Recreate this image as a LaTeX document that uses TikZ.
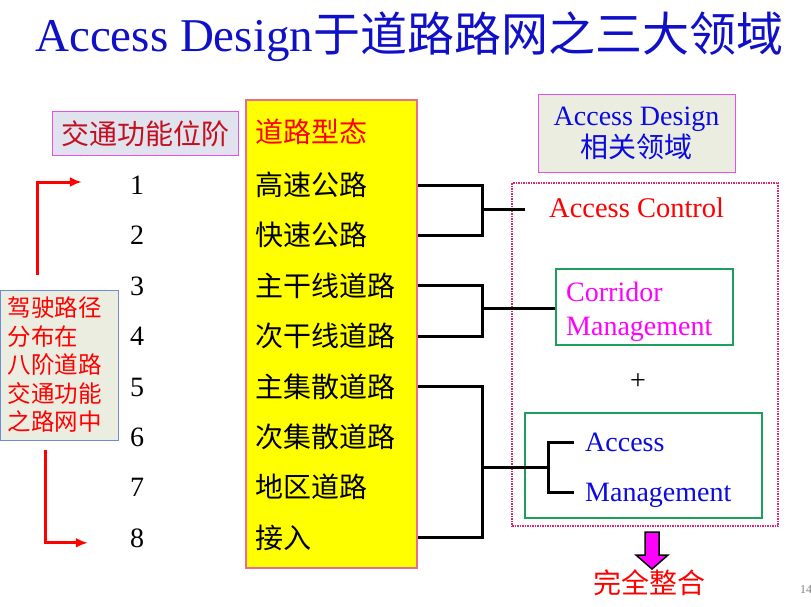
\documentclass[tikz,border=0pt]{standalone}
\usepackage{fontspec}
\setmainfont{Liberation Serif}
\newfontfamily\cjk{Noto Sans CJK SC}
\usepackage{tikz}
\usetikzlibrary{arrows.meta}
\tikzset{>={Latex[length=12pt, width=10pt]}}
\definecolor{titleblue}{RGB}{16, 16, 200}
\definecolor{textblue}{RGB}{10, 10, 225}
\definecolor{panelgray}{RGB}{236, 237, 225}
\definecolor{lavgray}{RGB}{224, 226, 238}
\definecolor{boxmagenta}{RGB}{228, 80, 232}
\definecolor{boxpink}{RGB}{232, 110, 140}
\definecolor{zonepink}{RGB}{225, 40, 110}
\definecolor{boxgreen}{RGB}{30, 160, 90}
\definecolor{boxblue}{RGB}{110, 140, 210}
\definecolor{darkred}{RGB}{195, 15, 30}
\definecolor{puremag}{RGB}{255, 0, 255}
\definecolor{pureyellow}{RGB}{255, 255, 0}
\definecolor{purered}{RGB}{255, 0, 0}
\tikzset{
    cjktext/.style={font=\cjk\fontsize{28}{30}\selectfont, text height=23pt, text depth=2pt, inner sep=0pt},
    latintext/.style={font=\fontsize{28}{30}\selectfont, text height=19pt, text depth=0pt, inner sep=0pt},
    brk/.style={line width=3pt},
    redarr/.style={purered, line width=3pt, ->},
    gbox/.style={draw=boxgreen, line width=2pt}
}
\begin{document}
\begin{tikzpicture}[x=1pt, y=-1pt]
    \useasboundingbox(0, 0)rectangle(811, 607);
    \node[anchor=base west, inner sep=0pt, text=titleblue, font=\fontsize{47}{50}\selectfont](title)at(35, 52){Access Design{\cjk 于道路路网之三大领域}};
    \node[draw=boxmagenta, fill=lavgray, line width=1pt, minimum width=186, minimum height=43, text=darkred, cjktext](rank)at(145, 133.5){交通功能位阶};
    \node[draw=boxpink, fill=pureyellow, line width=1.5pt, minimum width=171, minimum height=468](road)at(331.5, 334){};
    \node[cjktext, anchor=west, text=purered](rhead)at(255, 132){道路型态};
    \node[cjktext, anchor=west](r1)at(255, 185){高速公路};
    \node[cjktext, anchor=west](r2)at(255, 235.4){快速公路};
    \node[cjktext, anchor=west](r3)at(255, 285.8){主干线道路};
    \node[cjktext, anchor=west](r4)at(255, 336.2){次干线道路};
    \node[cjktext, anchor=west](r5)at(255, 386.6){主集散道路};
    \node[cjktext, anchor=west](r6)at(255, 437){次集散道路};
    \node[cjktext, anchor=west](r7)at(255, 487.4){地区道路};
    \node[cjktext, anchor=west](r8)at(255, 537.8){接入};
    \node[latintext](n1)at(137, 185){1};
    \node[latintext](n2)at(137, 235.4){2};
    \node[latintext](n3)at(137, 285.8){3};
    \node[latintext](n4)at(137, 336.2){4};
    \node[latintext](n5)at(137, 386.6){5};
    \node[latintext](n6)at(137, 437){6};
    \node[latintext](n7)at(137, 487.4){7};
    \node[latintext](n8)at(137, 537.8){8};
    \node[draw=boxblue, fill=panelgray, line width=1pt, minimum width=118, minimum height=150, text width=102, inner xsep=8pt, inner ysep=0pt, align=left, text=purered, font=\cjk\fontsize{23.5}{28.5}\selectfont](route)at(59, 365){驾驶路径\\分布在\\八阶道路\\交通功能\\之路网中};
    \coordinate(up)at(37, 275);
    \coordinate(down)at(45, 450);
    \draw[redarr, shorten >=48pt](up)|-([yshift=3pt]n1.west);
    \draw[redarr, shorten >=42pt](down)|-([yshift=-5pt]n8.west);
    \node[draw=boxmagenta, fill=panelgray, line width=1pt, minimum width=197, minimum height=77, align=center, text=textblue, font=\fontsize{28}{32}\selectfont](ad)at(636.5, 133.5){Access Design\\{\cjk 相关领域}};
    \node[draw=zonepink, densely dotted, line width=1.5pt, minimum width=266, minimum height=343](zone)at(645, 354.5){};
    \node[latintext, anchor=west, text=purered, font=\fontsize{28.5}{32}\selectfont](ac)at(549, 208){Access Control};
    \node[gbox, minimum width=177, minimum height=76](corr)at(644.5, 307){};
    \node[latintext, anchor=west, text=puremag](cor1)at(566, 292){Corridor};
    \node[latintext, anchor=west, text=puremag](cor2)at(566, 326){Management};
    \node[latintext](plus)at(638, 380){+};
    \node[gbox, minimum width=237, minimum height=105](amg)at(643.5, 465.5){};
    \node[latintext, anchor=west, text=textblue](acc)at(585, 442){Access};
    \node[latintext, anchor=west, text=textblue](mgt)at(585, 492){Management};
    \coordinate(k1)at(482, 209);
    \coordinate(k2)at(482, 308);
    \coordinate(k3)at(482, 467);
    \coordinate(k4)at(548, 467);
    \draw[brk](r1 -| road.east)-|(k1)|-(r2 -| road.east);
    \draw[brk, shorten >=24pt](k1)--(k1 -| ac.west);
    \draw[brk](r3 -| road.east)-|(k2)|-(r4 -| road.east);
    \draw[brk](k2)--(k2 -| corr.west);
    \draw[brk](r5 -| road.east)-|(k3)|-(r8 -| road.east);
    \draw[brk](k3)--(k4);
    \draw[brk]([xshift=-11pt]acc.west)-|(k4)|-([xshift=-11pt]mgt.west);
    \draw[line width=1.5pt, fill=puremag](645, 532)--(659, 532)--(659, 555)--(668, 555)--(652, 569)--(636, 555)--(645, 555)--cycle;
    \node[cjktext, text=purered](whole)at(649, 583){完全整合};
    \node[anchor=west, inner sep=0pt, text=gray, font=\fontsize{12}{14}\selectfont](page)at(800, 590){14};
\end{tikzpicture}
\end{document}
